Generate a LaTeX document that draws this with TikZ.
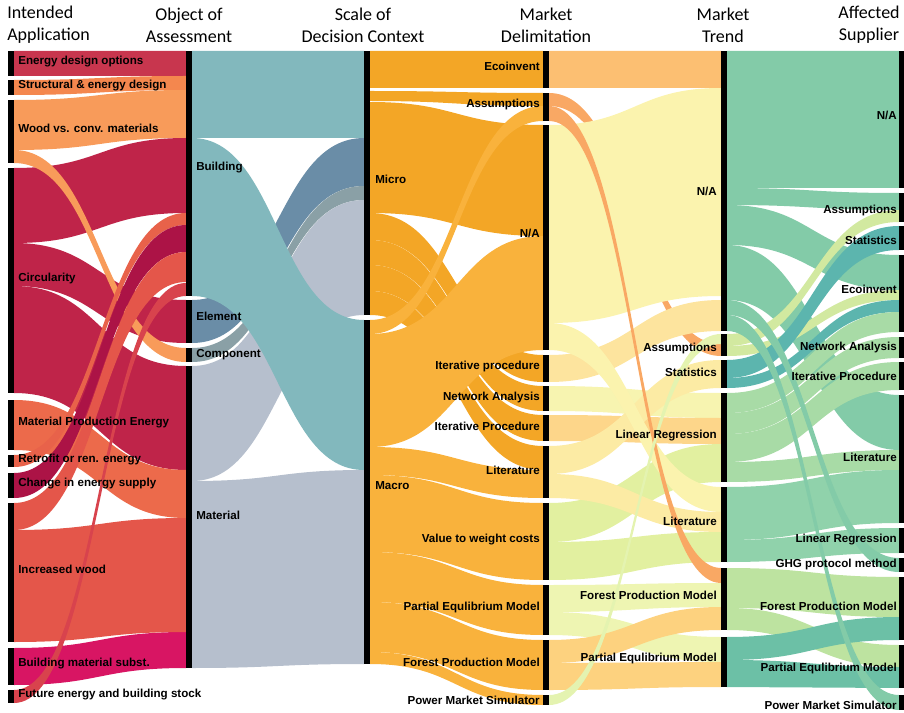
\documentclass[tikz,border=0pt]{standalone}
\usepackage{fontspec}
\setmainfont{Liberation Sans}
\newfontfamily\headfont{Carlito}
\definecolor{appEnergy}{HTML}{C8364E}
\definecolor{appStruct}{HTML}{F4874E}
\definecolor{appWood}{HTML}{F89B5A}
\definecolor{appCirc}{HTML}{BF2449}
\definecolor{appMPE}{HTML}{EC6A4B}
\definecolor{appRetro}{HTML}{E8624A}
\definecolor{appChange}{HTML}{AC1346}
\definecolor{appIncr}{HTML}{E4564A}
\definecolor{appSubst}{HTML}{D81563}
\definecolor{appFuture}{HTML}{D8434D}
\definecolor{objBuild}{HTML}{82B8BD}
\definecolor{objElem}{HTML}{6A8DA7}
\definecolor{objComp}{HTML}{8AA0A6}
\definecolor{objMat}{HTML}{B6BFCD}
\definecolor{scMicro}{HTML}{F3A626}
\definecolor{scMacro}{HTML}{F9B23C}
\definecolor{mdEco}{HTML}{FCBF72}
\definecolor{mdAssum}{HTML}{F9A864}
\definecolor{mdNA}{HTML}{FBF3AE}
\definecolor{mdIter}{HTML}{FDE49E}
\definecolor{mdNet}{HTML}{F7F4B0}
\definecolor{mdIterB}{HTML}{FDD68A}
\definecolor{mdLit}{HTML}{FCEBA4}
\definecolor{mdValue}{HTML}{E2F0A0}
\definecolor{mdPEM}{HTML}{EEF5B2}
\definecolor{mdFPM}{HTML}{FDD27F}
\definecolor{mdPMS}{HTML}{E4F3B0}
\definecolor{mtNA}{HTML}{83CBA8}
\definecolor{mtAssum}{HTML}{D2E9A0}
\definecolor{mtStat}{HTML}{5CB5AE}
\definecolor{mtLinReg}{HTML}{A8DBA6}
\definecolor{mtLit}{HTML}{90D2AB}
\definecolor{mtFPM}{HTML}{BDE3A0}
\definecolor{mtPEM}{HTML}{6CC0A6}
\newcommand{\band}[7]{\fill[#7] (#1,#2) .. controls ({(#1+#4)/2},#2) and ({(#1+#4)/2},#5) .. (#4,#5) -- (#4,#6) .. controls ({(#1+#4)/2},#6) and ({(#1+#4)/2},#3) .. (#1,#3) -- cycle;}
\begin{document}
\begin{tikzpicture}[x=0.75pt,y=-0.75pt,
  lab/.style={font=\bfseries\fontsize{8.7}{10}\selectfont,inner sep=0pt,text height=6.3pt,text depth=0pt},
  head/.style={font=\headfont\fontsize{13.5}{16.5}\selectfont,align=center,inner sep=0pt}]
\useasboundingbox (0,0) rectangle (904,713);
\foreach \a/\b/\c/\d/\col in {51/76/51/76/appEnergy, 80/95/76/90/appStruct, 100/150/90/138/appWood, 168/243/138/213/appCirc, 243/286/300/343/appCirc, 286/393/366/470/appCirc, 400/450/470/518/appMPE, 648/685/632/668/appSubst, 530/642/518/632/appIncr, 150/163/348/362/appWood, 455/467/213/225/appRetro, 473/498/225/252/appChange, 503/530/252/282/appIncr, 690/703/283/296/appFuture}
  {\band{14}{\a}{\b}{186}{\c}{\d}{\col}}
\foreach \a/\b/\c/\d/\col in {51/138/51/138/objBuild, 300/343/138/186/objElem, 348/362/186/200/objComp, 366/481/200/315/objMat, 481/668/470/664/objMat, 138/296/320/470/objBuild}
  {\band{192}{\a}{\b}{364}{\c}{\d}{\col}}
\foreach \a/\b/\c/\d/\col in {51/88/51/88/scMicro, 91/101/93/106/scMicro, 102/213/125/236/scMicro, 213/240/355/382/scMicro, 240/265/386/411/scMicro, 265/291/415/441/scMicro, 291/315/446/470/scMicro, 334/447/236/350/scMacro, 447/475/470/498/scMacro, 475/552/503/580/scMacro, 552/602/585/635/scMacro, 602/652/640/690/scMacro, 652/664/695/705/scMacro, 320/334/106/121/scMacro}
  {\band{370}{\a}{\b}{543}{\c}{\d}{\col}}
\foreach \a/\b/\c/\d/\col in {93/106/344/356/mdAssum, 51/88/51/88/mdEco, 125/323/88/296/mdNA, 355/382/300/331/mdIter, 386/411/393/418/mdNet, 415/441/418/444/mdIterB, 446/474/360/388/mdLit, 503/542/444/482/mdValue, 323/350/487/512/mdNA, 474/498/512/532/mdLit, 542/580/532/562/mdValue, 585/612/583/607/mdPEM, 612/635/637/662/mdPEM, 640/663/607/630/mdFPM, 663/690/662/687/mdFPM, 106/121/568/583/mdAssum, 695/705/334/344/mdPMS}
  {\band{549}{\a}{\b}{721}{\c}{\d}{\col}}
\foreach \a/\b/\c/\d/\col in {51/188/51/188/mtNA, 188/205/193/210/mtNA, 205/245/255/290/mtNA, 245/300/395/450/mtNA, 334/346/210/222/mtAssum, 346/356/290/300/mtAssum, 360/378/226/250/mtStat, 378/388/300/312/mtStat, 393/413/312/332/mtLinReg, 413/434/337/358/mtLinReg, 434/462/362/390/mtLinReg, 462/482/450/470/mtLinReg, 487/540/470/523/mtLit, 540/562/528/553/mtLit, 568/608/577/617/mtFPM, 608/630/645/667/mtFPM, 637/660/617/640/mtPEM, 660/687/667/688/mtPEM, 300/315/558/572/mtNA, 315/331/695/710/mtNA}
  {\band{727}{\a}{\b}{899}{\c}{\d}{\col}}
\foreach \a/\b in {51/76, 80/95, 100/163, 168/393, 400/450, 455/467, 473/498, 503/642, 648/685, 690/703}
  \fill (8,\a) rectangle (14,\b);
\foreach \a/\b in {51/296, 300/343, 348/362, 366/668}
  \fill (186,\a) rectangle (192,\b);
\foreach \a/\b in {51/315, 320/664}
  \fill (364,\a) rectangle (370,\b);
\foreach \a/\b in {51/88, 93/121, 125/350, 355/382, 386/411, 415/441, 446/498, 503/580, 585/635, 640/690, 695/705}
  \fill (543,\a) rectangle (549,\b);
\foreach \a/\b in {51/331, 334/356, 360/388, 393/482, 487/562, 568/630, 637/687}
  \fill (721,\a) rectangle (727,\b);
\foreach \a/\b in {51/188, 193/222, 226/250, 255/332, 337/358, 362/390, 395/523, 528/553, 558/572, 577/640, 645/688, 695/710}
  \fill (899,\a) rectangle (904,\b);
\node[head,anchor=west,align=left] (hApp) at (7,25) {Intended\\Application};
\node[head] (hObj) at (189,25) {Object of\\Assessment};
\node[head] (hScale) at (363,25) {Scale of\\Decision Context};
\node[head] (hDelim) at (546,25) {Market\\Delimitation};
\node[head] (hTrend) at (723,25) {Market\\Trend};
\node[head] (hSupp) at (869,25) {Affected\\Supplier};
\foreach \y/\t [count=\i] in {60/{Energy design options}, 84/{Structural \& energy design}, 128/{Wood vs. conv. materials}, 277/{Circularity}, 421/{Material Production Energy}, 458/{Retrofit or ren. energy}, 482/{Change in energy supply}, 569/{Increased wood}, 662/{Building material subst.}, 693/{Future energy and building stock}}
  \node[lab,anchor=west] (app\i) at (18,\y) {\t};
\foreach \y/\t [count=\i] in {166/{Building}, 316/{Element}, 353/{Component}, 515/{Material}}
  \node[lab,anchor=west] (obj\i) at (196,\y) {\t};
\foreach \y/\t [count=\i] in {179/{Micro}, 485/{Macro}}
  \node[lab,anchor=west] (sc\i) at (375,\y) {\t};
\foreach \y/\t [count=\i] in {66/{Ecoinvent}, 103/{Assumptions}, 233/{N/A}, 365/{Iterative procedure}, 396/{Network Analysis}, 426/{Iterative Procedure}, 470/{Literature}, 538/{Value to weight costs}, 606/{Partial Equlibrium Model}, 662/{Forest Production Model}, 700/{Power Market Simulator}}
  \node[lab,anchor=east] (md\i) at (540,\y) {\t};
\foreach \y/\t [count=\i] in {191/{N/A}, 347/{Assumptions}, 372/{Statistics}, 434/{Linear Regression}, 521/{Literature}, 595/{Forest Production Model}, 657/{Partial Equlibrium Model}}
  \node[lab,anchor=east] (mt\i) at (717,\y) {\t};
\foreach \y/\t [count=\i] in {115/{N/A}, 209/{Assumptions}, 240/{Statistics}, 289/{Ecoinvent}, 346/{Network Analysis}, 376/{Iterative Procedure}, 457/{Literature}, 538/{Linear Regression}, 563/{GHG protocol method}, 606/{Forest Production Model}, 667/{Partial Equlibrium Model}, 705/{Power Market Simulator}}
  \node[lab,anchor=east] (as\i) at (897,\y) {\t};
\end{tikzpicture}
\end{document}
